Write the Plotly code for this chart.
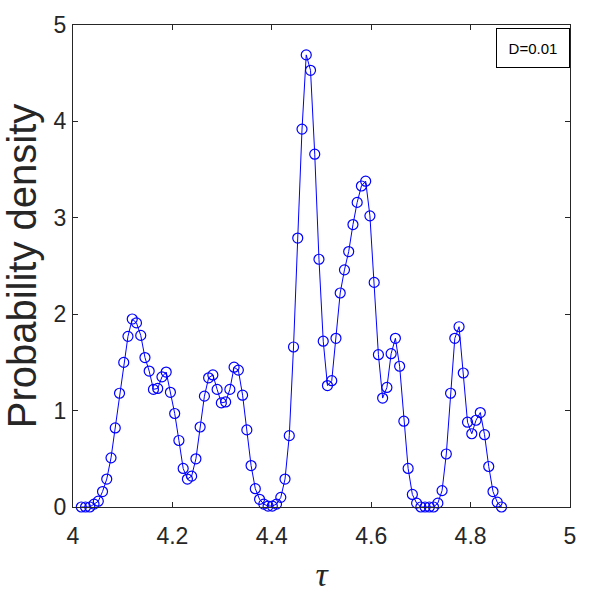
import plotly.graph_objects as go

tau = [4.0167, 4.0252, 4.0338, 4.0423, 4.0509, 4.0594, 4.0679, 4.0765, 4.0850, 4.0936,
       4.1021, 4.1106, 4.1192, 4.1277, 4.1363, 4.1448, 4.1533, 4.1619, 4.1704, 4.1790,
       4.1875, 4.1960, 4.2046, 4.2131, 4.2217, 4.2302, 4.2387, 4.2473, 4.2558, 4.2644,
       4.2729, 4.2814, 4.2900, 4.2985, 4.3071, 4.3156, 4.3241, 4.3327, 4.3412, 4.3498,
       4.3583, 4.3668, 4.3754, 4.3839, 4.3925, 4.4010, 4.4095, 4.4181, 4.4266, 4.4352,
       4.4437, 4.4522, 4.4608, 4.4693, 4.4779, 4.4864, 4.4949, 4.5035, 4.5120, 4.5206,
       4.5291, 4.5376, 4.5462, 4.5547, 4.5633, 4.5718, 4.5803, 4.5889, 4.5974, 4.6060,
       4.6145, 4.6230, 4.6316, 4.6401, 4.6487, 4.6572, 4.6657, 4.6743, 4.6828, 4.6914,
       4.6999, 4.7084, 4.7170, 4.7255, 4.7341, 4.7426, 4.7511, 4.7597, 4.7682, 4.7768,
       4.7853, 4.7938, 4.8024, 4.8109, 4.8195, 4.8280, 4.8365, 4.8451, 4.8536, 4.8622]

density = [0.00, 0.00, 0.00, 0.03, 0.06, 0.16, 0.29, 0.51, 0.82, 1.18,
           1.50, 1.77, 1.95, 1.91, 1.78, 1.55, 1.41, 1.22, 1.23, 1.35,
           1.40, 1.19, 0.97, 0.69, 0.40, 0.29, 0.32, 0.50, 0.83, 1.15,
           1.34, 1.37, 1.22, 1.08, 1.09, 1.22, 1.45, 1.42, 1.16, 0.80,
           0.43, 0.19, 0.08, 0.03, 0.01, 0.01, 0.03, 0.10, 0.29, 0.74,
           1.66, 2.79, 3.92, 4.69, 4.53, 3.66, 2.57, 1.72, 1.26, 1.31,
           1.75, 2.22, 2.46, 2.65, 2.93, 3.16, 3.33, 3.38, 3.02, 2.33,
           1.58, 1.13, 1.24, 1.59, 1.75, 1.46, 0.89, 0.40, 0.13, 0.04,
           0.00, 0.00, 0.00, 0.00, 0.04, 0.17, 0.55, 1.18, 1.75, 1.87,
           1.39, 0.88, 0.76, 0.90, 0.98, 0.75, 0.42, 0.16, 0.05, 0.00]

x_ticks = [4, 4.2, 4.4, 4.6, 4.8, 5]
x_tick_labels = ["4", "4.2", "4.4", "4.6", "4.8", "5"]
y_ticks = [0, 1, 2, 3, 4, 5]
y_tick_labels = ["0", "1", "2", "3", "4", "5"]
legend_text = "D=0.01"

axis_color = "#262626"
tick_font = dict(family="Liberation Sans, Arial", size=23, color=axis_color)

fig = go.Figure()
fig.add_trace(go.Scatter(
    x=tau, y=density, mode="lines+markers",
    line=dict(color="#0000FF", width=1),
    marker=dict(symbol="circle-open", size=10, color="#0000FF", line=dict(width=1.2, color="#0000FF")),
    showlegend=False, cliponaxis=False,
))

axis_common = dict(
    showline=True, linecolor=axis_color, linewidth=1, mirror="ticks",
    ticks="inside", ticklen=5, tickcolor=axis_color, tickwidth=1,
    showgrid=False, zeroline=False, tickfont=tick_font,
)

fig.update_layout(
    width=592, height=604,
    margin=dict(l=73, r=22, t=14, b=97),
    paper_bgcolor="white", plot_bgcolor="white",
    xaxis=dict(range=[4, 5], tickvals=x_ticks, ticktext=x_tick_labels, ticklabelstandoff=8,
               title=dict(text="<i>τ</i>", font=dict(family="Liberation Serif, Times New Roman", size=34, color=axis_color), standoff=14),
               **axis_common),
    yaxis=dict(range=[0, 5], tickvals=y_ticks, ticktext=y_tick_labels, ticklabelstandoff=1,
               title=dict(text="Probability density", font=dict(family="Liberation Sans, Arial", size=40, color=axis_color), standoff=8),
               **axis_common),
    annotations=[dict(
        text=legend_text, xref="paper", yref="paper", x=1.0, y=0.9939,
        xanchor="right", yanchor="top", showarrow=False,
        font=dict(family="Liberation Sans, Arial", size=15, color="black"),
        bgcolor="white", bordercolor="black", borderwidth=1, borderpad=0,
        width=72, height=38,
    )],
)

fig.write_html("out.html")
